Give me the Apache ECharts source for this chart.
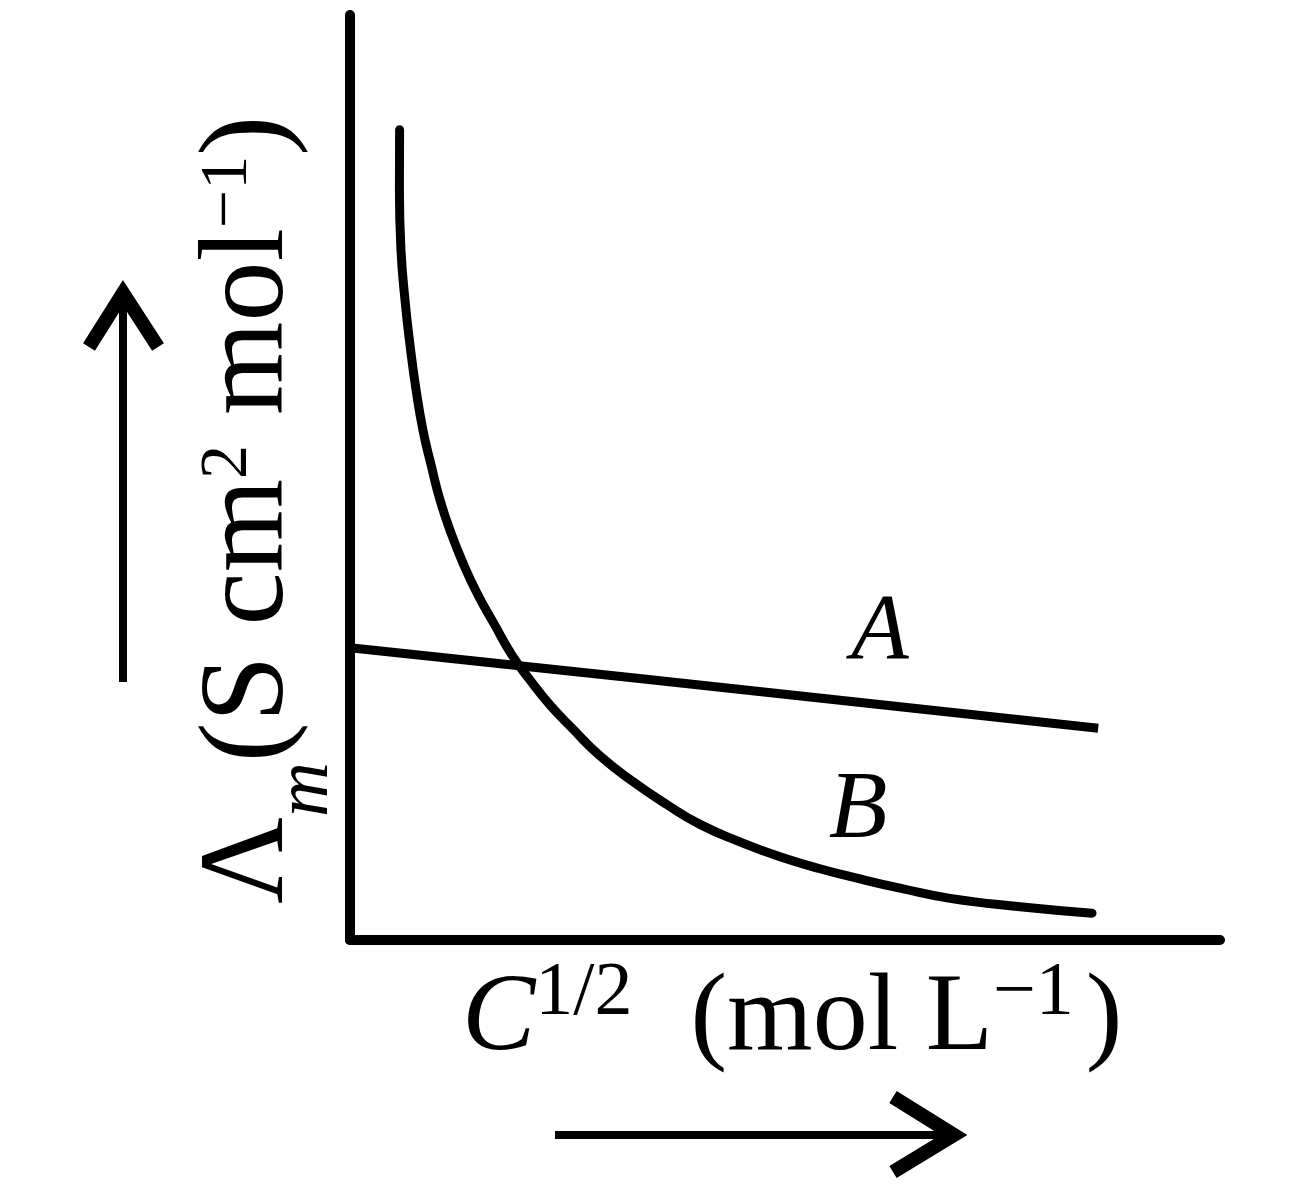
<!DOCTYPE html>
<html>
<head>
<meta charset="utf-8">
<script src="https://cdn.jsdelivr.net/npm/echarts@6/dist/echarts.min.js"></script>
<style>
  html, body { margin: 0; padding: 0; background: #fff; }
  #chart { width: 1297px; height: 1189px; }
</style>
</head>
<body>
<div id="chart"></div>
<script>
// values (arbitrary units, both axes run 0..100)
const lineA = [[0, 31.6], [33, 28.3], [86, 22.9]];
const curveB = [
  [5.70, 87.6], [5.68, 81.1], [5.86, 74.6], [6.32, 69.2], [6.90, 64.3],
  [7.59, 59.5], [8.39, 55.1], [9.31, 51.4], [10.34, 47.6], [11.61, 44.0],
  [13.10, 40.5], [14.71, 37.3], [16.55, 34.2], [18.62, 30.8], [20.69, 28.1],
  [22.99, 25.4], [25.52, 22.9], [28.74, 19.9], [32.41, 17.2], [36.32, 14.7],
  [40.23, 12.5], [44.83, 10.6], [49.43, 9.0], [54.02, 7.7], [58.62, 6.6],
  [63.22, 5.6], [68.97, 4.5], [77.01, 3.6], [85.29, 2.9]
];
const seriesNames = ["A", "B"];

const serif = "'Liberation Serif', 'DejaVu Serif', serif";
const ink = "#000";

const chart = echarts.init(document.getElementById("chart"));

chart.setOption({
  backgroundColor: "#fff",
  animation: false,
  grid: { left: 350, top: 15, right: 77, bottom: 249 },
  xAxis: {
    type: "value", min: 0, max: 100,
    axisLine: { show: true, lineStyle: { color: ink, width: 10 } },
    axisTick: { show: false }, axisLabel: { show: false }, splitLine: { show: false }
  },
  yAxis: {
    type: "value", min: 0, max: 100,
    axisLine: { show: true, lineStyle: { color: ink, width: 10 } },
    axisTick: { show: false }, axisLabel: { show: false }, splitLine: { show: false }
  },
  series: [
    {
      name: seriesNames[0], type: "line", data: lineA,
      symbol: "none", lineStyle: { color: ink, width: 9 }
    },
    {
      name: seriesNames[1], type: "line", data: curveB, smooth: 0.5,
      symbol: "none", lineStyle: { color: ink, width: 9, cap: "round" }
    }
  ],
  graphic: [
    // curve labels
    {
      type: "text", x: 880, y: 633,
      style: { text: "A", font: "italic 94px " + serif, fill: ink, align: "center", verticalAlign: "middle" }
    },
    {
      type: "text", x: 858, y: 812,
      style: { text: "B", font: "italic 96px " + serif, fill: ink, align: "center", verticalAlign: "middle" }
    },
    // y axis title, rotated to read bottom-up
    {
      type: "text", x: 250, y: 510, rotation: Math.PI / 2,
      style: {
        text: "{a|Λ}{sub|m}{a|(S cm}{sup|2}{a| mol}{sup|−1}{a|)}",
        align: "center", verticalAlign: "middle", fill: ink,
        rich: {
          a: { fontFamily: serif, fontSize: 120, lineHeight: 190, verticalAlign: "middle", color: ink },
          sub: { fontFamily: serif, fontStyle: "italic", fontSize: 76, lineHeight: 76, verticalAlign: "bottom", color: ink },
          sup: { fontFamily: serif, fontSize: 68, lineHeight: 120, verticalAlign: "top", color: ink, padding: [39, 0, 0, 0] }
        }
      }
    },
    // x axis title
    {
      type: "text", x: 462, y: 1020,
      style: {
        text: "{it|C}{sup|1/2}{gap|(mol L}{sup|−1}{end|)}",
        align: "left", verticalAlign: "middle", fill: ink,
        rich: {
          it: { fontFamily: serif, fontStyle: "italic", fontSize: 110, lineHeight: 128, verticalAlign: "middle", color: ink },
          gap: { fontFamily: serif, fontSize: 110, lineHeight: 128, verticalAlign: "middle", color: ink, padding: [0, 0, 0, 58] },
          end: { fontFamily: serif, fontSize: 110, lineHeight: 128, verticalAlign: "middle", color: ink, padding: [0, 0, 0, 12] },
          sup: { fontFamily: serif, fontSize: 76, lineHeight: 76, verticalAlign: "top", color: ink }
        }
      }
    },
    // direction arrows
    {
      type: "line", shape: { x1: 123, y1: 682, x2: 123, y2: 296 },
      style: { stroke: ink, lineWidth: 8 }
    },
    {
      type: "polyline", shape: { points: [[89, 347], [123, 293], [158, 347]] },
      style: { stroke: ink, lineWidth: 14, fill: null, lineJoin: "miter" }
    },
    {
      type: "line", shape: { x1: 555, y1: 1135, x2: 952, y2: 1135 },
      style: { stroke: ink, lineWidth: 8 }
    },
    {
      type: "polyline", shape: { points: [[893, 1097], [954, 1135], [893, 1172]] },
      style: { stroke: ink, lineWidth: 14, fill: null, lineJoin: "miter" }
    }
  ]
});
</script>
</body>
</html>
